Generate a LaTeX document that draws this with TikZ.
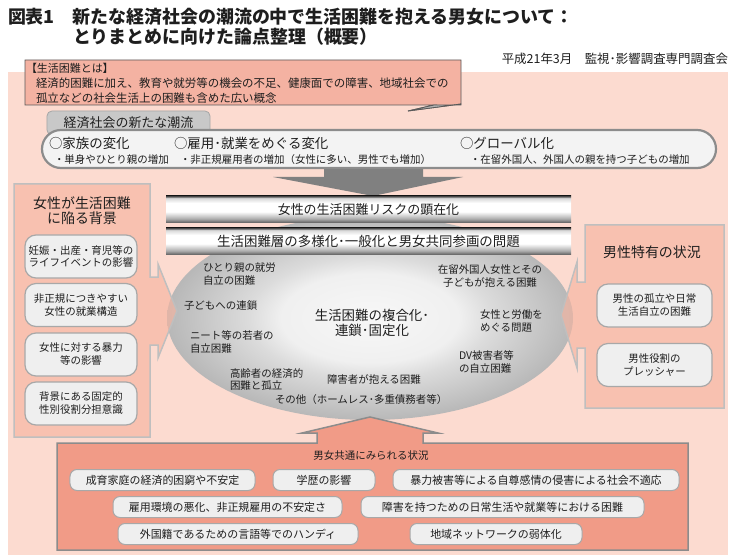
\documentclass[tikz,border=0pt]{standalone}
\usepackage{fontspec}
\setmainfont{Noto Sans CJK JP}
\definecolor{bgpink}{HTML}{FCDBD0}
\definecolor{calloutc}{HTML}{F4B2A2}
\definecolor{panelc}{HTML}{F6B4A0}
\definecolor{bottomc}{HTML}{F19B87}
\definecolor{boxc}{HTML}{EFEFEF}
\definecolor{edgec}{HTML}{A8A8A8}
\definecolor{arrowc}{HTML}{808080}
\definecolor{txtc}{HTML}{1E1E1E}
\definecolor{tabc}{HTML}{C8C8C8}
\definecolor{pillc}{HTML}{F3F3F3}
\pgfdeclareverticalshading{metal}{100bp}{color(0bp)=(black!65); color(25bp)=(black!65); color(33bp)=(black!32); color(46bp)=(white); color(62bp)=(white); color(71bp)=(black!15); color(73.5bp)=(black!55); color(75bp)=(black!72); color(100bp)=(black!72)}
\pgfdeclareradialshading{ellip}{\pgfpoint{0bp}{0bp}}{color(0bp)=(black!3); color(11bp)=(black!6); color(15bp)=(black!14); color(25bp)=(black!28); color(50bp)=(black!28)}
\begin{document}
\begin{tikzpicture}[x=1bp,y=-1bp,
  every node/.style={text=txtc, inner sep=0pt, outer sep=0pt},
  fA/.style={font=\fontsize{10.5}{13}\selectfont},
  fB/.style={font=\fontsize{11}{13}\selectfont},
  fC/.style={font=\fontsize{13.5}{15}\selectfont},
  fD/.style={font=\fontsize{14}{15.5}\selectfont},
  subbox/.style={draw=edgec, line width=1.2bp, fill=boxc, rounded corners=11bp, align=center, fA, minimum width=112bp, minimum height=43bp},
  lowbox/.style={draw=edgec, line width=1bp, fill=boxc, rounded corners=7bp, fB, minimum height=21bp},
  panel/.style={fill=panelc, fill opacity=0.65, draw=black!25, line width=1.5bp},
]
\useasboundingbox (0,0) rectangle (735,560);
\fill[white] (0,0) rectangle (735,560);

% title
\node[anchor=west, font=\fontsize{18}{20}\selectfont\bfseries] (title1) at (8,17) {図表1　新たな経済社会の潮流の中で生活困難を抱える男女について：};
\node[anchor=west, font=\fontsize{18}{20}\selectfont\bfseries] (title2) at (73,37) {とりまとめに向けた論点整理（概要）};
\node[anchor=east, font=\fontsize{12.5}{14}\selectfont] (date) at (728,59) {平成21年3月　監視･影響調査専門調査会};

% background
\fill[bgpink] (8,72) rectangle (728,555);

% callout
\draw[fill=calloutc, draw=black!65, line width=0.8bp] (25,60) -- (461,60) -- (461,104) -- (408,111) -- (434,105) -- (25,105) -- cycle;
\draw[fill=black!30, draw=black!65, line width=0.8bp] (434,105) -- (408,111) -- (461,104) -- (461,105) -- cycle;
\node[anchor=west, fB] (ctitle) at (26,68) {【生活困難とは】};
\node[anchor=west, font=\fontsize{11.5}{13}\selectfont] (cline1) at (36,83.5) {経済的困難に加え、教育や就労等の機会の不足、健康面での障害、地域社会での};
\node[anchor=west, font=\fontsize{11.5}{13}\selectfont] (cline2) at (36,98.5) {孤立などの社会生活上の困難も含めた広い概念};

% down arrow
\fill[arrowc] (324,160) -- (423,160) -- (423,177) -- (463,177) -- (373,196) -- (273,177) -- (324,177) -- cycle;

% trend tab and pill
\node[draw=black!35, fill=tabc, line width=0.8bp, rounded corners=5bp, minimum width=163bp, minimum height=24bp, font=\fontsize{13}{14}\selectfont] (tab) at (128.5,123) {経済社会の新たな潮流};
\node[draw=black!45, fill=pillc, line width=2.2bp, rounded corners=19bp, minimum width=674bp, minimum height=38bp] (pill) at (379,149) {};
\node[anchor=west, fC] (fam) at (49,143) {○家族の変化};
\node[anchor=west, fA] (famsub) at (54,160) {・単身やひとり親の増加};
\node[anchor=west, fC] (emp) at (174,143) {○雇用･就業をめぐる変化};
\node[anchor=west, fA] (empsub) at (180,160) {・非正規雇用者の増加（女性に多い、男性でも増加）};
\node[anchor=west, fC] (glob) at (460,143) {○グローバル化};
\node[anchor=west, fA] (globsub) at (470,160) {・在留外国人、外国人の親を持つ子どもの増加};

% ellipse
\shade[shading=ellip] (370,318) ellipse [x radius=203bp, y radius=102bp];
\coordinate (ellc) at (370,318);

% bars
\shade[shading=metal] (166,196) rectangle (571,223);
\shade[shading=metal] (166,228) rectangle (571,255);
\node[font=\fontsize{13}{14}\selectfont] (bar1) at (368.5,209.5) {女性の生活困難リスクの顕在化};
\node[fC] (bar2) at (368.5,241.5) {生活困難層の多様化･一般化と男女共同参画の問題};

% ellipse texts
\node[fA, anchor=west, align=left] (e1) at (203,274.5) {ひとり親の就労\\自立の困難};
\node[fA, anchor=west] (e2) at (184,306) {子どもへの連鎖};
\node[fA, anchor=west, align=left] (e3) at (190,342) {ニート等の若者の\\自立困難};
\node[fA, anchor=west, align=left] (e4) at (230,379.5) {高齢者の経済的\\困難と孤立};
\node[fA, anchor=west] (e5) at (327,380) {障害者が抱える困難};
\node[fA, anchor=west] (e6) at (275,400) {その他（ホームレス･多重債務者等）};
\node[fA, align=center] (e7) at (490,276.5) {在留外国人女性とその\\子どもが抱える困難};
\node[fA, anchor=west, align=left] (e8) at (480,321) {女性と労働を\\めぐる問題};
\node[fA, anchor=west, align=left] (e9) at (459,362) {DV被害者等\\の自立困難};
\node[fC, align=center] (core) at (372,322.5) {生活困難の複合化･\\連鎖･固定化};

% left panel with arrow
\draw[panel] (14,184) -- (150,184) -- (150,277) -- (158,277) -- (158,264) -- (177,311) -- (158,358) -- (158,345) -- (150,345) -- (150,437) -- (14,437) -- cycle;
\node[fD, align=center] (ltitle) at (82,210.5) {女性が生活困難\\に陥る背景};
\node[subbox] (lb1) at (81,256.5) {妊娠・出産・育児等の\\ライフイベントの影響};
\node[subbox] (lb2) at (81,305) {非正規につきやすい\\女性の就業構造};
\node[subbox] (lb3) at (81,354.5) {女性に対する暴力\\等の影響};
\node[subbox] (lb4) at (81,403.5) {背景にある固定的\\性別役割分担意識};

% right panel with arrow
\draw[panel] (585,225) -- (724,225) -- (724,408) -- (585,408) -- (585,348) -- (577,348) -- (577,368) -- (561,315) -- (577,262) -- (577,282) -- (585,282) -- cycle;
\node[fD] (rtitle) at (652,252) {男性特有の状況};
\node[subbox, minimum width=115bp] (rb1) at (654.5,305.5) {男性の孤立や日常\\生活自立の困難};
\node[subbox, minimum width=115bp] (rb2) at (654.5,365) {男性役割の\\プレッシャー};

% bottom panel with up arrow
\draw[fill=bottomc, draw=black!45, line width=1.5bp] (57,443) -- (317,443) -- (317,433) -- (302,433) -- (370,417) -- (438,433) -- (423,433) -- (423,443) -- (688,443) -- (688,550) -- (57,550) -- cycle;
\node[fA] (btitle) at (371,456) {男女共通にみられる状況};
\node[lowbox, minimum width=185bp] (r1a) at (162.5,480) {成育家庭の経済的困窮や不安定};
\node[lowbox, minimum width=102bp] (r1b) at (324,480) {学歴の影響};
\node[lowbox, minimum width=286bp] (r1c) at (536,480) {暴力被害等による自尊感情の侵害による社会不適応};
\node[lowbox, minimum width=229bp] (r2a) at (227.5,507) {雇用環境の悪化、非正規雇用の不安定さ};
\node[lowbox, minimum width=283bp] (r2b) at (502.5,507) {障害を持つための日常生活や就業等における困難};
\node[lowbox, minimum width=240bp] (r3a) at (238,534) {外国籍であるための言語等でのハンディ};
\node[lowbox, minimum width=172bp] (r3b) at (496,534) {地域ネットワークの弱体化};
\end{tikzpicture}
\end{document}
